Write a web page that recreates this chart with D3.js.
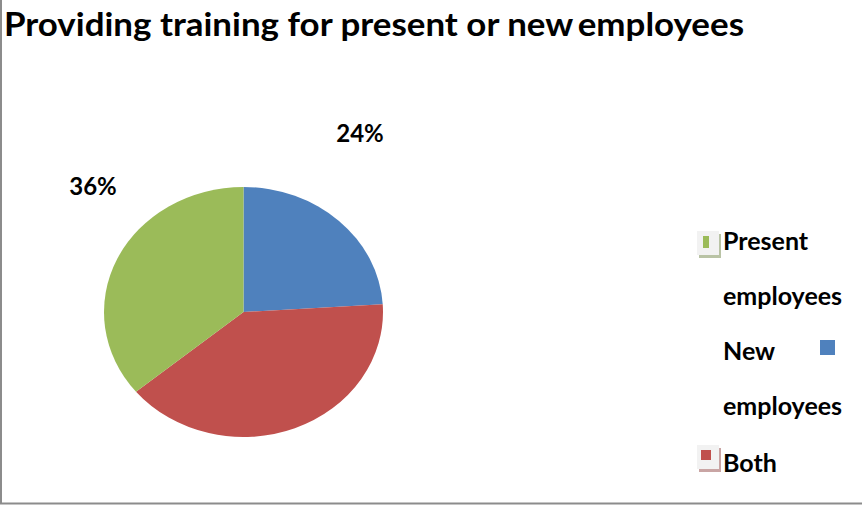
<!DOCTYPE html>
<html>
<head>
<meta charset="utf-8">
<script src="https://cdn.jsdelivr.net/npm/d3@7"></script>
<style>
  html, body { margin: 0; padding: 0; background: #fff; }
  svg { display: block; font-family: Lato, "Open Sans", sans-serif; font-weight: bold; }
</style>
</head>
<body>
<svg id="chart" width="862" height="506"></svg>
<script>
// values, in drawing order (clockwise from 12 o'clock)
const categories = ['New employees', 'Both', 'Present employees'];
const shares = [24, 40, 36];
const colors = ['#4F81BD', '#C0504D', '#9BBB59'];
const shownLabels = ['24%', '', '36%'];

const svg = d3.select('#chart');

// frame: only left and bottom edges show
svg.append('line')
  .attr('x1', 1).attr('y1', 0).attr('x2', 1).attr('y2', 504)
  .style('stroke', '#8c8c8c').style('stroke-width', 2);
svg.append('line')
  .attr('x1', 0).attr('y1', 503.5).attr('x2', 862).attr('y2', 503.5)
  .style('stroke', '#8c8c8c').style('stroke-width', 2);

// title
svg.append('text')
  .attr('x', 4).attr('y', 36)
  .attr('textLength', 740)
  .attr('lengthAdjust', 'spacingAndGlyphs')
  .style('font-size', '32px')
  .text('Providing training for present or new\u2009employees');

// pie, slightly wider than tall
let cx = 243.5, cy = 312, rx = 139.5, ry = 125;

let pie = d3.pie().sort(null).value((d) => d);
let arc = d3.arc().innerRadius(0).outerRadius(ry);

let g = svg.append('g')
  .attr('transform', 'translate(' + cx + ',' + cy + ') scale(' + (rx / ry) + ',1)');

g.selectAll('path')
  .data(pie(shares))
  .enter()
  .append('path')
  .attr('d', arc)
  .style('fill', (d, i) => colors[i]);

// outside labels
let labelPos = [[360, 142], null, [93, 195]];
shownLabels.forEach((t, i) => {
  if (!t) return;
  svg.append('text')
    .attr('x', labelPos[i][0]).attr('y', labelPos[i][1])
    .attr('text-anchor', 'middle')
    .style('font-size', '24px')
    .text(t);
});

// legend (wrapped as in the original)
let legendLines = [
  ['Present', 250], ['employees', 305], ['New', 360], ['employees', 415], ['Both', 472]
];
legendLines.forEach(([t, y]) => {
  svg.append('text')
    .attr('x', 723).attr('y', y)
    .style('font-size', '25px')
    .text(t);
});

// boxed markers for present / both
function boxedMarker(x, y, w, h, color, shadow) {
  svg.append('rect')
    .attr('x', x + 2).attr('y', y + 3).attr('width', 22).attr('height', 24)
    .style('fill', shadow);
  svg.append('rect')
    .attr('x', x).attr('y', y).attr('width', 22).attr('height', 24)
    .style('fill', '#f2f2f2');
  svg.append('rect')
    .attr('x', x + 6 + (6 - w) / 2).attr('y', y + 5).attr('width', w).attr('height', h)
    .style('fill', color);
}
boxedMarker(697, 231, 6, 12, colors[2], '#b9c3a5');
boxedMarker(697, 445, 10, 10, colors[1], '#c9a5a4');

svg.append('rect')
  .attr('x', 820).attr('y', 340).attr('width', 15).attr('height', 15)
  .style('fill', colors[0]);
</script>
</body>
</html>
